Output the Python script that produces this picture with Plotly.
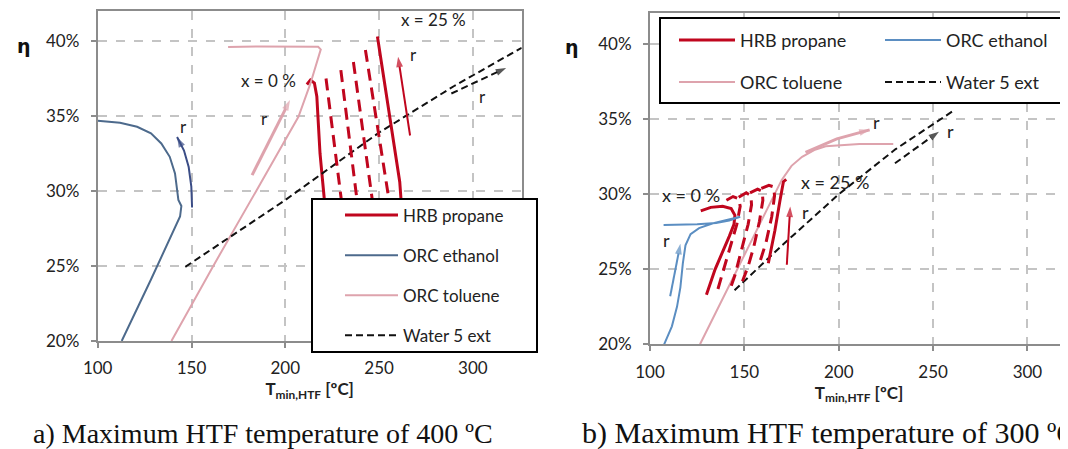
import plotly.graph_objects as go

W, H = 1068, 449
OFF = 8  # the page body margin shifts the figure by 8 px right and down

# ---------------- shared ticks ----------------
x_ticks = [100, 150, 200, 250, 300]
y_ticks = [20, 25, 30, 35, 40]
y_tick_text = ["20%", "25%", "30%", "35%", "40%"]

# ---------------- panel a (max HTF 400 ºC) ----------------
a_eth_x = [112.8, 128.4, 143.9, 144.6, 143.0, 141.2, 138.4, 133.9, 128.4, 121.0, 111.9, 102.7, 100.0]
a_eth_y = [20.0, 24.1, 28.3, 29.0, 29.4, 31.17, 32.28, 33.17, 33.84, 34.28, 34.55, 34.66, 34.68]

a_tol_x = [139.3, 161.3, 184.2, 207.0, 213.4, 218.9, 217.5, 200.0, 185.0, 169.5]
a_tol_y = [20.0, 24.94, 29.94, 34.95, 37.17, 39.44, 39.62, 39.64, 39.64, 39.6]

a_hrb0_x = [211.5, 213.4, 215.5, 216.8, 217.6, 218.5, 220.0, 221.5, 223.0]
a_hrb0_y = [37.1, 37.4, 37.2, 36.3, 34.5, 32.5, 30.5, 28.5, 26.5]
a_hrb25_x = [249.1, 255.0, 261.0, 262.5]
a_hrb25_y = [40.3, 35.5, 30.6, 28.0]
a_hrb5_x = [221.7, 229.9, 232.3]
a_hrb5_y = [37.5, 29.4, 27.0]
a_hrb10_x = [229.6, 238.2, 240.6]
a_hrb10_y = [38.06, 29.4, 27.0]
a_hrb15_x = [236.3, 246.4, 249.0]
a_hrb15_y = [38.6, 29.4, 27.0]
a_hrb20_x = [242.7, 254.6, 258.3]
a_hrb20_y = [39.4, 29.94, 27.0]

a_wat_x = [146.7, 200.0, 250.0, 290.0, 326.0]
a_wat_y = [24.94, 29.4, 33.9, 37.0, 39.55]

a_eth_arr_x = [150.3, 149.9, 148.5, 146.0, 142.3]
a_eth_arr_y = [28.9, 30.3, 31.6, 32.7, 33.6]
a_tol_arr_x = [182.3, 202.5]
a_tol_arr_y = [31.06, 36.06]
a_hrb_arr_x = [266.5, 260.1]
a_hrb_arr_y = [33.7, 38.95]
a_wat_arr_x = [288.5, 317.7]
a_wat_arr_y = [36.5, 38.2]

a_labels = ["x = 0 %", "x = 25 %", "r", "r", "r", "r"]
a_label_x = [191.0, 279.0, 145.7, 188.7, 268.3, 305.0]
a_label_y = [37.4, 41.4, 34.33, 34.84, 39.07, 36.3]

# ---------------- panel b (max HTF 300 ºC) ----------------
b_eth_x = [107.5, 111.6, 114.3, 116.1, 117.4, 118.8, 121.5, 126.0, 133.0, 141.0, 147.8, 142.0, 135.0, 125.0, 115.0, 107.2]
b_eth_y = [20.0, 21.2, 22.5, 23.8, 25.4, 26.6, 27.35, 27.75, 28.05, 28.3, 28.5, 28.25, 28.08, 28.0, 27.97, 27.96]

b_tol_x = [126.5, 148.0, 169.8, 175.0, 180.6, 187.0, 193.1, 211.0, 228.9]
b_tol_y = [20.0, 25.4, 30.96, 31.9, 32.5, 32.95, 33.2, 33.36, 33.36]

b_hrb0_x = [126.9, 132.2, 138.5, 143.0, 145.0, 144.5, 142.0, 138.5, 134.5, 129.9]
b_hrb0_y = [28.9, 29.13, 29.2, 29.05, 28.6, 28.0, 27.2, 26.2, 25.0, 23.3]
b_hrb25_x = [172.2, 170.7, 168.9, 166.2, 162.7]
b_hrb25_y = [31.0, 30.84, 29.6, 27.6, 25.4]
b_hrb5_x = [140.5, 144.0, 147.0, 147.8, 146.0, 142.5, 139.0, 135.8]
b_hrb5_y = [29.6, 29.85, 29.7, 29.2, 28.0, 26.5, 25.0, 23.6]
b_hrb10_x = [147.0, 151.0, 153.5, 153.8, 152.0, 148.5, 145.0, 142.0]
b_hrb10_y = [29.8, 30.1, 29.9, 29.3, 28.0, 26.2, 24.6, 23.5]
b_hrb15_x = [153.0, 157.0, 159.5, 159.8, 158.0, 155.0, 152.0, 149.0]
b_hrb15_y = [30.1, 30.35, 30.2, 29.6, 28.2, 26.5, 25.2, 24.2]
b_hrb20_x = [159.0, 163.0, 165.5, 166.0, 164.5, 161.5, 158.5]
b_hrb20_y = [30.4, 30.6, 30.5, 29.9, 28.5, 26.8, 25.6]

b_wat_x = [144.8, 170.0, 200.0, 230.0, 261.1]
b_wat_y = [23.6, 26.6, 30.0, 33.0, 35.6]

b_eth_arr_x = [110.7, 116.1]
b_eth_arr_y = [23.2, 26.7]
b_tol_arr_x = [182.4, 199.0, 216.4]
b_tol_arr_y = [32.8, 33.7, 34.3]
b_hrb_arr_x = [172.5, 174.3]
b_hrb_arr_y = [25.3, 29.18]
b_wat_arr_x = [229.8, 253.1]
b_wat_arr_y = [32.07, 34.18]

b_labels = ["x = 0 %", "x = 25 %", "r", "r", "r", "r"]
b_label_x = [121.5, 198.5, 109.0, 220.0, 182.4, 259.4]
b_label_y = [29.96, 30.84, 26.96, 34.84, 28.84, 34.2]

series_names = ["HRB propane", "ORC ethanol", "ORC toluene", "Water 5 ext"]
captions = ["a) Maximum HTF temperature of 400 ºC", "b) Maximum HTF temperature of 300 ºC"]

# ---------------- styles ----------------
RED = "#c0061e"
ETH_A = "#4d6a8c"
ETH_B = "#5b8ec2"
ETH_ARR_A = "#3b4d86"
TOL = "#dea3ad"
BLK = "#111111"
FONT = "Lato"
RED_DASH = "12px,7px"
WAT_DASH = "7px,4px"


def PX(p):
    """window pixel x -> paper fraction"""
    return (p - OFF) / W


def PY(p):
    """window pixel y -> paper fraction"""
    return 1 - (p - OFF) / H


fig = go.Figure()


def add_line(x, y, color, width, xa, ya, dash=None, name=None, legend=None, group=None, show=False):
    fig.add_trace(go.Scatter(
        x=x, y=y, mode="lines", xaxis=xa, yaxis=ya,
        line=dict(color=color, width=width, dash=dash),
        name=name, legend=legend, legendgroup=group, showlegend=show,
        hoverinfo="skip"))


def add_arrow(x, y, color, width, xa, ya, dash=None, size=11):
    n = len(x)
    fig.add_trace(go.Scatter(
        x=x, y=y, mode="lines+markers", xaxis=xa, yaxis=ya,
        line=dict(color=color, width=width, dash=dash),
        marker=dict(symbol=["circle"] * (n - 1) + ["arrow"],
                    size=[0] * (n - 1) + [size], angleref="previous",
                    color=color, line=dict(width=0)),
        showlegend=False, hoverinfo="skip"))


# ----- panel a traces -----
add_line(a_hrb0_x, a_hrb0_y, RED, 3, "x", "y", name=series_names[0], legend="legend", group="a1", show=True)
add_line(a_eth_x, a_eth_y, ETH_A, 2, "x", "y", name=series_names[1], legend="legend", group="a2", show=True)
add_line(a_tol_x, a_tol_y, TOL, 2, "x", "y", name=series_names[2], legend="legend", group="a3", show=True)
add_line(a_wat_x, a_wat_y, BLK, 2, "x", "y", dash=WAT_DASH, name=series_names[3], legend="legend", group="a4", show=True)
for xs, ys in [(a_hrb5_x, a_hrb5_y), (a_hrb10_x, a_hrb10_y), (a_hrb15_x, a_hrb15_y), (a_hrb20_x, a_hrb20_y)]:
    add_line(xs, ys, RED, 3, "x", "y", dash=RED_DASH, group="a1")
add_line(a_hrb25_x, a_hrb25_y, RED, 3, "x", "y", group="a1")
add_arrow(a_eth_arr_x, a_eth_arr_y, ETH_ARR_A, 2, "x", "y")
add_arrow(a_tol_arr_x, a_tol_arr_y, TOL, 3, "x", "y")
add_arrow(a_hrb_arr_x, a_hrb_arr_y, RED, 2, "x", "y")
add_arrow(a_wat_arr_x, a_wat_arr_y, BLK, 2, "x", "y", dash=WAT_DASH)

# ----- panel b traces (one legend per entry: 2 x 2 grid) -----
add_line(b_hrb0_x, b_hrb0_y, RED, 3, "x2", "y2", name=series_names[0], legend="legend2", show=True)
add_line(b_eth_x, b_eth_y, ETH_B, 2, "x2", "y2", name=series_names[1], legend="legend3", show=True)
add_line(b_tol_x, b_tol_y, TOL, 2, "x2", "y2", name=series_names[2], legend="legend4", show=True)
add_line(b_wat_x, b_wat_y, BLK, 2, "x2", "y2", dash=WAT_DASH, name=series_names[3], legend="legend5", show=True)
for xs, ys in [(b_hrb5_x, b_hrb5_y), (b_hrb10_x, b_hrb10_y), (b_hrb15_x, b_hrb15_y), (b_hrb20_x, b_hrb20_y)]:
    add_line(xs, ys, RED, 3, "x2", "y2", dash=RED_DASH)
add_line(b_hrb25_x, b_hrb25_y, RED, 3, "x2", "y2")
add_arrow(b_eth_arr_x, b_eth_arr_y, ETH_B, 2, "x2", "y2")
add_arrow(b_tol_arr_x, b_tol_arr_y, TOL, 3, "x2", "y2")
add_arrow(b_hrb_arr_x, b_hrb_arr_y, RED, 2, "x2", "y2")
add_arrow(b_wat_arr_x, b_wat_arr_y, BLK, 2, "x2", "y2", dash=WAT_DASH)

# ----- axes -----
tickfont = dict(family=FONT, size=17, color="#222222")
axis_common = dict(showgrid=True, griddash="dash", gridcolor="#c4c4c4", gridwidth=1.5,
                   showline=True, linecolor="#8c8c8c", linewidth=2, zeroline=False,
                   ticks="outside", ticklen=5, tickcolor="#8c8c8c", tickwidth=1.5,
                   tickfont=tickfont, fixedrange=True, automargin=False)
xtitle = dict(text="<b>T<sub>min,HTF</sub> [ºC]</b>", font=dict(family=FONT, size=17, color="#222222"), standoff=2)

fig.update_layout(
    xaxis=dict(domain=[PX(97.7), PX(521.7)], range=[100, 326], tickvals=x_ticks, mirror=True,
               anchor="y", title=xtitle, ticklabelstandoff=6, **axis_common),
    yaxis=dict(domain=[PY(341), PY(11)], range=[20, 42], tickvals=y_ticks, ticktext=y_tick_text,
               mirror=True, anchor="x", ticklabelstandoff=8, **axis_common),
    xaxis2=dict(domain=[PX(650), PX(1068)], range=[100, 321.5], tickvals=x_ticks, mirror=True,
                anchor="y2", title=xtitle, ticklabelstandoff=6, **axis_common),
    yaxis2=dict(domain=[PY(344.3), PY(13)], range=[20, 42.09], tickvals=y_ticks, ticktext=y_tick_text,
                mirror=False, anchor="x2", ticklabelstandoff=8, **axis_common),
)

# ----- legend boxes (white, framed) -----
for (x0, y0, x1, y1) in [(312, 199, 537, 352), (660, 18, 1065, 103)]:
    fig.add_shape(type="rect", xref="paper", yref="paper", x0=PX(x0), x1=PX(x1), y0=PY(y0), y1=PY(y1),
                  fillcolor="white", line=dict(color="black", width=2), layer="above")

legfont_a = dict(family=FONT, size=17, color="#222222")
legfont_b = dict(family=FONT, size=18, color="#222222")


def leg_b(xp, yp):
    return dict(x=PX(xp), y=PY(yp), xanchor="left", yanchor="top", bgcolor="rgba(0,0,0,0)",
                borderwidth=0, font=legfont_b, itemwidth=56, orientation="v")


fig.update_layout(
    legend=dict(x=PX(340), y=PY(197.5), xanchor="left", yanchor="top", bgcolor="rgba(0,0,0,0)",
                borderwidth=0, font=legfont_a, itemwidth=53, tracegroupgap=15, orientation="v",
                traceorder="grouped"),
    legend2=leg_b(674, 21.8),
    legend3=leg_b(880, 21.8),
    legend4=leg_b(674, 63.8),
    legend5=leg_b(880, 63.8),
)

# ----- text labels -----
annos = []
for t, xv, yv in zip(a_labels, a_label_x, a_label_y):
    annos.append(dict(text=t, x=xv, y=yv, xref="x", yref="y", showarrow=False,
                      font=dict(family=FONT, size=17, color="#222222")))
for t, xv, yv in zip(b_labels, b_label_x, b_label_y):
    annos.append(dict(text=t, x=xv, y=yv, xref="x2", yref="y2", showarrow=False,
                      font=dict(family=FONT, size=18, color="#222222")))
annos.append(dict(text="<b>η</b>", x=PX(15), y=PY(33), xref="paper", yref="paper", showarrow=False,
                  font=dict(family="DejaVu Sans", size=19, color="#111111")))
annos.append(dict(text="<b>η</b>", x=PX(572), y=PY(34), xref="paper", yref="paper", showarrow=False,
                  font=dict(family="DejaVu Sans", size=19, color="#111111")))
annos.append(dict(text=captions[0], x=PX(31), y=PY(433), xref="paper", yref="paper", showarrow=False,
                  xanchor="left", yanchor="middle",
                  font=dict(family="Liberation Serif", size=28, color="#111111")))
annos.append(dict(text=captions[1], x=PX(580), y=PY(433), xref="paper", yref="paper", showarrow=False,
                  xanchor="left", yanchor="middle",
                  font=dict(family="Liberation Serif", size=30, color="#111111")))
fig.update_layout(annotations=annos)

fig.update_layout(width=W, height=H, margin=dict(l=0, r=0, t=0, b=0, autoexpand=False),
                  paper_bgcolor="white", plot_bgcolor="white", showlegend=True)

fig.write_html("out.html")
